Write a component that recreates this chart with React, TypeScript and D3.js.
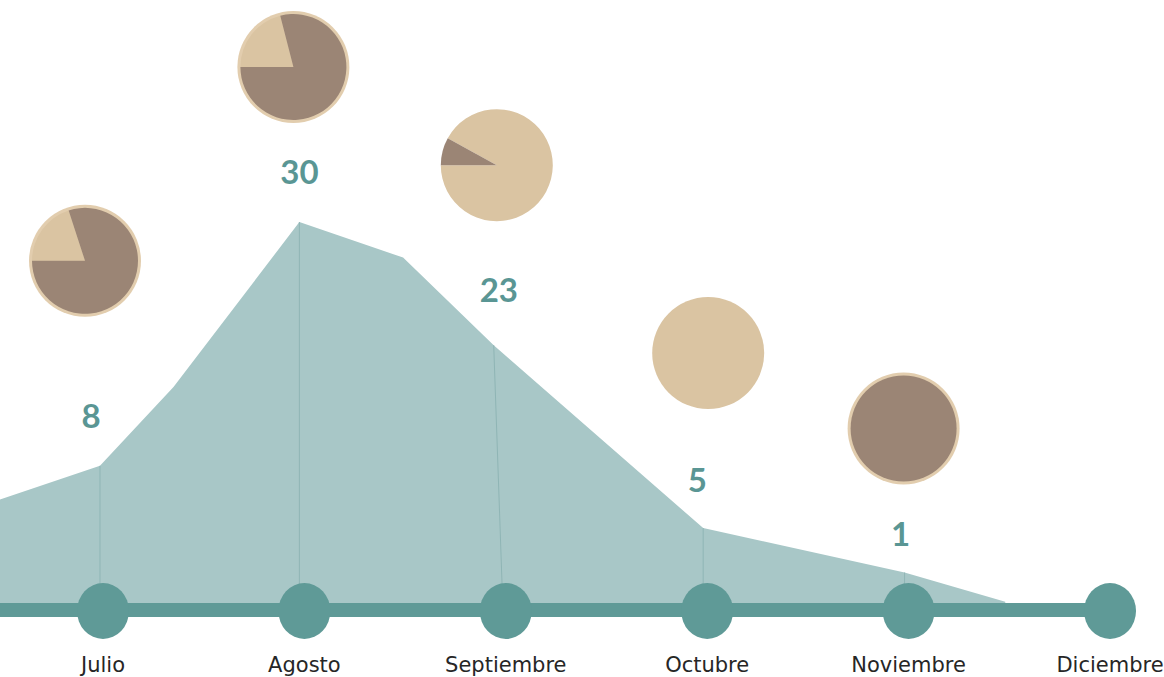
import React, { useEffect, useRef } from 'react';
import * as d3 from 'd3';

// months on the timeline
const months = ['Julio', 'Agosto', 'Septiembre', 'Octubre', 'Noviembre', 'Diciembre'];
// totals shown above the area
const totals = [8, 30, 23, 5, 1];
// pie split per month (percent)
const darkShare = [80, 79, 8, 0, 100];
const lightShare = [20, 21, 92, 100, 0];

// area silhouette: position (in months) and level (same units as totals)
const areaPos = [-0.52, -0.015, 0.35, 0.975, 1.49, 1.94, 2.98, 3.98, 4.48];
const areaLevel = [8.1, 10.8, 17.0, 30, 27.2, 20.3, 5.9, 2.4, 0.1];

// layout tweaks
const labelDx = [-12, -5, -7, -10, -8];
const labelLift = [50, 50, 55, 48, 39];
const pieDx = [-18, -11, -9, 1, -5];
const pieLift = [155, 105, 125, 127, 105];

const W = 1164;
const H = 677;
const AXIS_Y = 610;
const AXIS_TOP = 603;

const DARK = '#9b8575';
const LIGHT = '#dac4a2';
const RING = '#e2cdae';
const TEAL = '#5f9a97';
const AREA = '#a8c7c7';

export default function App() {
  const svgRef = useRef<SVGSVGElement>(null);

  useEffect(() => {
    if (!svgRef.current) return;
    const svg = d3.select(svgRef.current);
    svg.selectAll('*').remove();

    const x = d3.scaleLinear().domain([0, 5]).range([103, 1110]);
    const y = d3.scaleLinear().domain([0, 30]).range([AXIS_TOP, 222]);

    const pts = areaPos.map((p, i) => ({ p, v: areaLevel[i] }));

    const area = d3.area<{ p: number; v: number }>()
      .x(d => x(d.p))
      .y0(AXIS_TOP)
      .y1(d => y(d.v));

    svg.append('path')
      .datum(pts)
      .attr('fill', AREA)
      .attr('d', area);

    // nearest area vertex for each month with a total
    const anchor = totals.map((_, i) => {
      let best = pts[0];
      pts.forEach(d => { if (Math.abs(d.p - i) < Math.abs(best.p - i)) best = d; });
      return best;
    });

    // thin dividers inside the area
    svg.append('g').selectAll('line')
      .data(anchor)
      .join('line')
      .attr('x1', d => x(d.p))
      .attr('x2', (d, i) => x(d.p) + (i === 2 ? 9 : 0))
      .attr('y1', d => y(d.v))
      .attr('y2', AXIS_TOP)
      .attr('stroke', '#8fb5b5')
      .attr('stroke-width', 1);

    // timeline
    svg.append('line')
      .attr('x1', 0)
      .attr('x2', x(5))
      .attr('y1', AXIS_Y)
      .attr('y2', AXIS_Y)
      .attr('stroke', TEAL)
      .attr('stroke-width', 14);

    svg.append('g').selectAll('ellipse')
      .data(months)
      .join('ellipse')
      .attr('cx', (_, i) => x(i))
      .attr('cy', AXIS_Y + 1)
      .attr('rx', 26)
      .attr('ry', 28)
      .attr('fill', TEAL);

    svg.append('g').selectAll('text')
      .data(months)
      .join('text')
      .attr('x', (_, i) => x(i))
      .attr('y', 672)
      .attr('text-anchor', 'middle')
      .attr('font-family', '"DejaVu Sans", sans-serif')
      .attr('font-size', 21)
      .attr('fill', '#262626')
      .text(d => d);

    // totals
    const labelY = anchor.map((d, i) => y(d.v) - labelLift[i]);
    svg.append('g').selectAll('text')
      .data(totals)
      .join('text')
      .attr('x', (_, i) => x(i) + labelDx[i])
      .attr('y', (_, i) => labelY[i] + 12)
      .attr('text-anchor', 'middle')
      .attr('font-family', 'Lato, sans-serif')
      .attr('font-weight', 700)
      .attr('font-size', 33)
      .attr('fill', '#5a9694')
      .text(d => d);

    // pies
    const R = 56;
    const pie = d3.pie<{ c: string; v: number }>()
      .value(d => d.v)
      .sort((a, b) => a.v - b.v)
      .startAngle(1.5 * Math.PI)
      .endAngle(3.5 * Math.PI);

    totals.forEach((_, i) => {
      const ringed = darkShare[i] > lightShare[i];
      const inner = ringed ? R - 3 : R;
      const arc = d3.arc<d3.PieArcDatum<{ c: string; v: number }>>()
        .innerRadius(0)
        .outerRadius(inner);
      const g = svg.append('g')
        .attr('transform', `translate(${x(i) + pieDx[i]},${labelY[i] - pieLift[i]})`);
      if (ringed) g.append('circle').attr('r', R).attr('fill', RING);
      const slices = [
        { c: LIGHT, v: lightShare[i] },
        { c: DARK, v: darkShare[i] },
      ].filter(s => s.v > 0);
      g.selectAll('path')
        .data(pie(slices))
        .join('path')
        .attr('d', arc)
        .attr('fill', d => d.data.c);
    });
  }, []);

  return (
    <svg
      ref={svgRef}
      width={W}
      height={H}
      style={{ position: 'absolute', left: 0, top: 0, background: '#fff', display: 'block' }}
    />
  );
}
